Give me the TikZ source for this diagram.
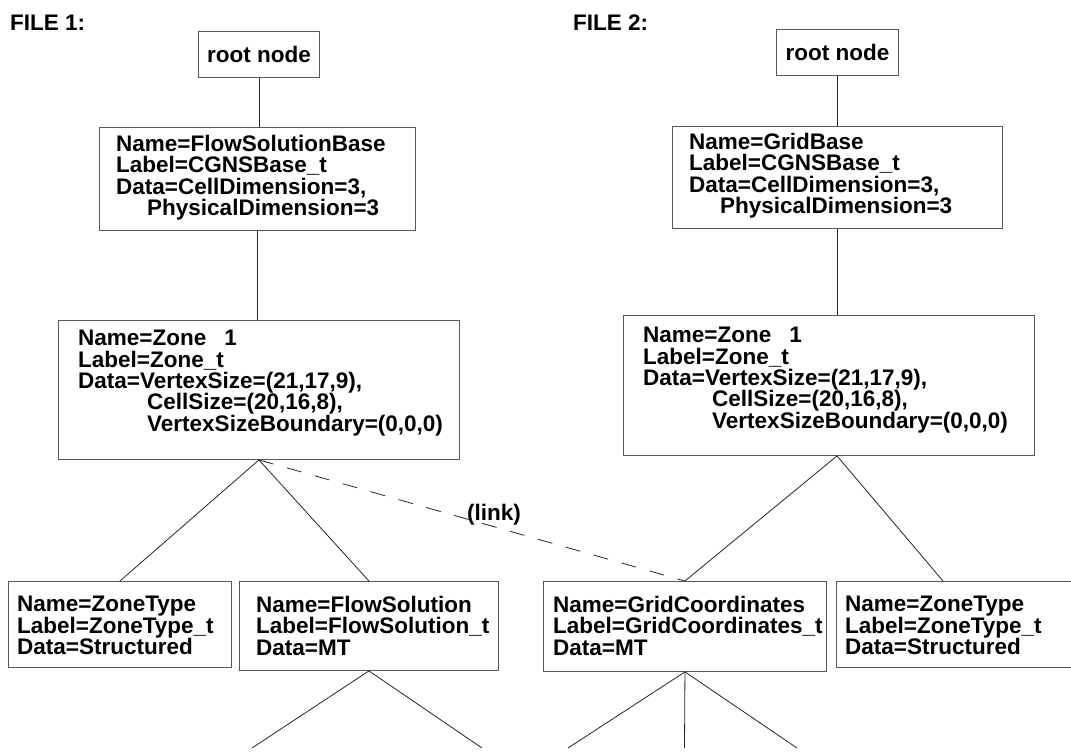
\documentclass[tikz,border=0pt]{standalone}
\usepackage{fontspec}
\setmainfont{Liberation Sans}
\usetikzlibrary{calc}
\begin{document}
\lineskiplimit=-20pt
\begin{tikzpicture}[x=1pt,y=-1pt,
  box/.style={draw=black!65, line width=0.9pt, inner sep=0pt, anchor=north west},
  txt/.style={font=\fontsize{22.5}{21.4}\selectfont\bfseries, align=left, inner sep=0pt, anchor=north west},
  conn/.style={draw=black!85, line width=0.8pt},
  linkline/.style={draw=black!85, line width=0.8pt, dash pattern=on 15pt off 14pt}]
\useasboundingbox (0,0) rectangle (1071,753);
% titles
\node[txt] (f1) at (10,15) {FILE 1:};
\node[txt] (f2) at (573,15) {FILE 2:};
% file 1
\node[box, minimum width=121pt, minimum height=46pt, font=\fontsize{22.5}{23.4}\selectfont\bfseries] (r1) at (198,31) {root node};
\node[box, minimum width=316pt, minimum height=103pt] (fsb) at (99,127) {};
\node[txt] (fsbt) at (116,135) {Name=FlowSolutionBase\\Label=CGNSBase\_t\\Data=CellDimension=3,\\\hspace*{31pt}PhysicalDimension=3};
\node[box, minimum width=401pt, minimum height=139pt] (z1) at (58,320) {};
\node[txt] (z1t) at (78,330) {Name=Zone\hspace{18pt}1\\Label=Zone\_t\\Data=VertexSize=(21,17,9),\\\hspace*{69pt}CellSize=(20,16,8),\\\hspace*{69pt}VertexSizeBoundary=(0,0,0)};
\node[box, minimum width=223pt, minimum height=86pt] (zt1) at (8,581) {};
\node[txt] (zt1t) at (17,596) {Name=ZoneType\\Label=ZoneType\_t\\Data=Structured};
\node[box, minimum width=259pt, minimum height=89pt] (fs) at (239,581) {};
\node[txt] (fst) at (256,596) {Name=FlowSolution\\Label=FlowSolution\_t\\Data=MT};
% file 2
\node[box, minimum width=122pt, minimum height=46pt, font=\fontsize{22.5}{23.4}\selectfont\bfseries] (r2) at (776,29) {root node};
\node[box, minimum width=330pt, minimum height=102pt] (gb) at (672,126) {};
\node[txt] (gbt) at (689,133) {Name=GridBase\\Label=CGNSBase\_t\\Data=CellDimension=3,\\\hspace*{31pt}PhysicalDimension=3};
\node[box, minimum width=411pt, minimum height=140pt] (z2) at (623,315) {};
\node[txt] (z2t) at (643,327) {Name=Zone\hspace{18pt}1\\Label=Zone\_t\\Data=VertexSize=(21,17,9),\\\hspace*{69pt}CellSize=(20,16,8),\\\hspace*{69pt}VertexSizeBoundary=(0,0,0)};
\node[box, minimum width=283pt, minimum height=90pt] (gc) at (543,581) {};
\node[txt] (gct) at (553,596) {Name=GridCoordinates\\Label=GridCoordinates\_t\\Data=MT};
\node[box, minimum width=240pt, minimum height=86pt] (zt2) at (836,581) {};
\node[txt] (zt2t) at (845,596) {Name=ZoneType\\Label=ZoneType\_t\\Data=Structured};
% free ends
\coordinate (fa) at (252,748);
\coordinate (fb) at (482,748);
\coordinate (ga) at (568,748);
\coordinate (gm) at (684.5,748);
\coordinate (gz) at (797,748);
\coordinate (z2a) at ($(z2.south west)+(214,0)$);
\coordinate (zt2a) at ($(zt2.north west)+(107,0)$);
% connectors
\draw[conn] (r1.south) -- (r1.south |- fsb.north);
\draw[conn] (fsb.south) -- (fsb.south |- z1.north);
\draw[conn] (z1.south) -- (zt1.north);
\draw[conn] (z1.south) -- (fs.north);
\draw[linkline] (z1.south) -- (gc.north) node[pos=0.552, above=1pt, font=\fontsize{22.5}{23.4}\selectfont\bfseries, inner sep=0pt] (lk) {(link)};
\draw[conn] (fs.south) -- (fa);
\draw[conn] (fs.south) -- (fb);
\draw[conn] (r2.south) -- (r2.south |- gb.north);
\draw[conn] (gb.south) -- (gb.south |- z2.north);
\draw[conn] (z2a) -- (gc.north);
\draw[conn] (z2a) -- (zt2a);
\draw[conn] (gc.south) -- (ga);
\draw[conn] (gc.south) -- (gm);
\draw[conn] (gc.south) -- (gz);
\end{tikzpicture}
\end{document}
